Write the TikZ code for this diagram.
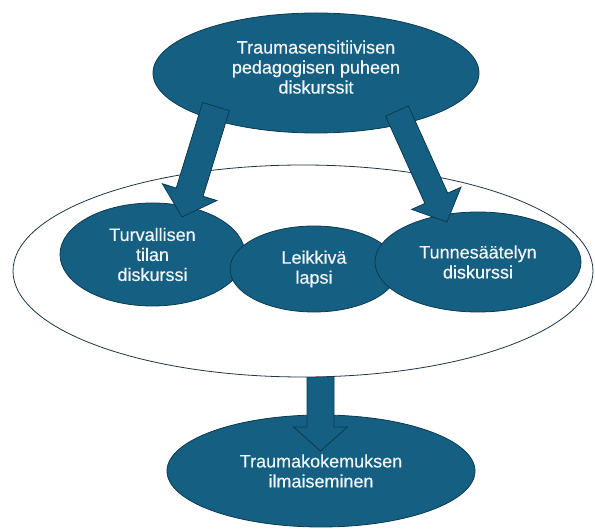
\documentclass[tikz,border=0pt]{standalone}
\usepackage{fontspec}
\setmainfont{Liberation Sans}
\newfontfamily\blobfont[FakeBold=0.4]{Liberation Sans}
\usetikzlibrary{shapes.geometric,calc}
\definecolor{tealfill}{HTML}{156082}
\definecolor{tealedge}{HTML}{0C3A50}
\definecolor{outeredge}{HTML}{1E3545}
\definecolor{blobtext}{HTML}{F2F5F7}
\tikzset{
  blob/.style={ellipse, draw=tealedge, line width=0.8pt, fill=tealfill, text=blobtext,
    inner sep=0pt, align=center, font=\blobfont\fontsize{18}{20}\selectfont},
  outerblob/.style={ellipse, draw=outeredge, line width=0.8pt, fill=white, inner sep=0pt},
  barrow/.style={draw=tealedge, line width=0.8pt, fill=tealfill, line join=miter},
}
\newcommand\blockarr[5]{%
  \coordinate (#1-#2-h) at ($(#2)!#5!(#1)$);
  \draw[barrow] ($(#1)!#3!90:(#2)$) -- ($(#1-#2-h)!#3!90:(#2)$) -- ($(#1-#2-h)!#4!90:(#2)$)
    -- (#2) -- ($(#1-#2-h)!#4!-90:(#2)$) -- ($(#1-#2-h)!#3!-90:(#2)$) -- ($(#1)!#3!-90:(#2)$) -- cycle;}
\begin{document}
\begin{tikzpicture}[x=1pt,y=-1pt]
\useasboundingbox (0,0) rectangle (595,529);
% bottom ellipse and arrow
\node[blob, minimum width=308pt, minimum height=112pt] (bottom) at (321,471) {Traumakokemuksen\\ilmaiseminen};
\coordinate (bs) at (320.5,360);
\coordinate (bt) at (320.5,451);
\blockarr{bs}{bt}{13.5pt}{27pt}{24pt}
% outer ellipse
\node[outerblob, minimum width=580pt, minimum height=212pt] (outer) at (303,271) {};
% inner ellipses
\node[blob, minimum width=185pt, minimum height=103pt] (left) at (152.5,254.5) {Turvallisen\\tilan\\diskurssi};
\node[blob, minimum width=168pt, minimum height=86pt] (mid) at (314,269) {Leikkivä\\lapsi};
\node[blob, minimum width=206pt, minimum height=100pt] (right) at (478,262) {Tunnesäätelyn\\diskurssi};
% top ellipse
\node[blob, minimum width=326pt, minimum height=120pt] (top) at (316,73) {Traumasensitiivisen\\pedagogisen puheen\\diskurssit\\[-8pt]\mbox{}};
% top arrows
\coordinate (ls) at (216,106.5);
\coordinate (lt) at (182,217);
\coordinate (rs) at (397,111);
\coordinate (rt) at (447,222);
\blockarr{ls}{lt}{14pt}{28.5pt}{26pt}
\blockarr{rs}{rt}{12.5pt}{27pt}{26pt}
\end{tikzpicture}
\end{document}
